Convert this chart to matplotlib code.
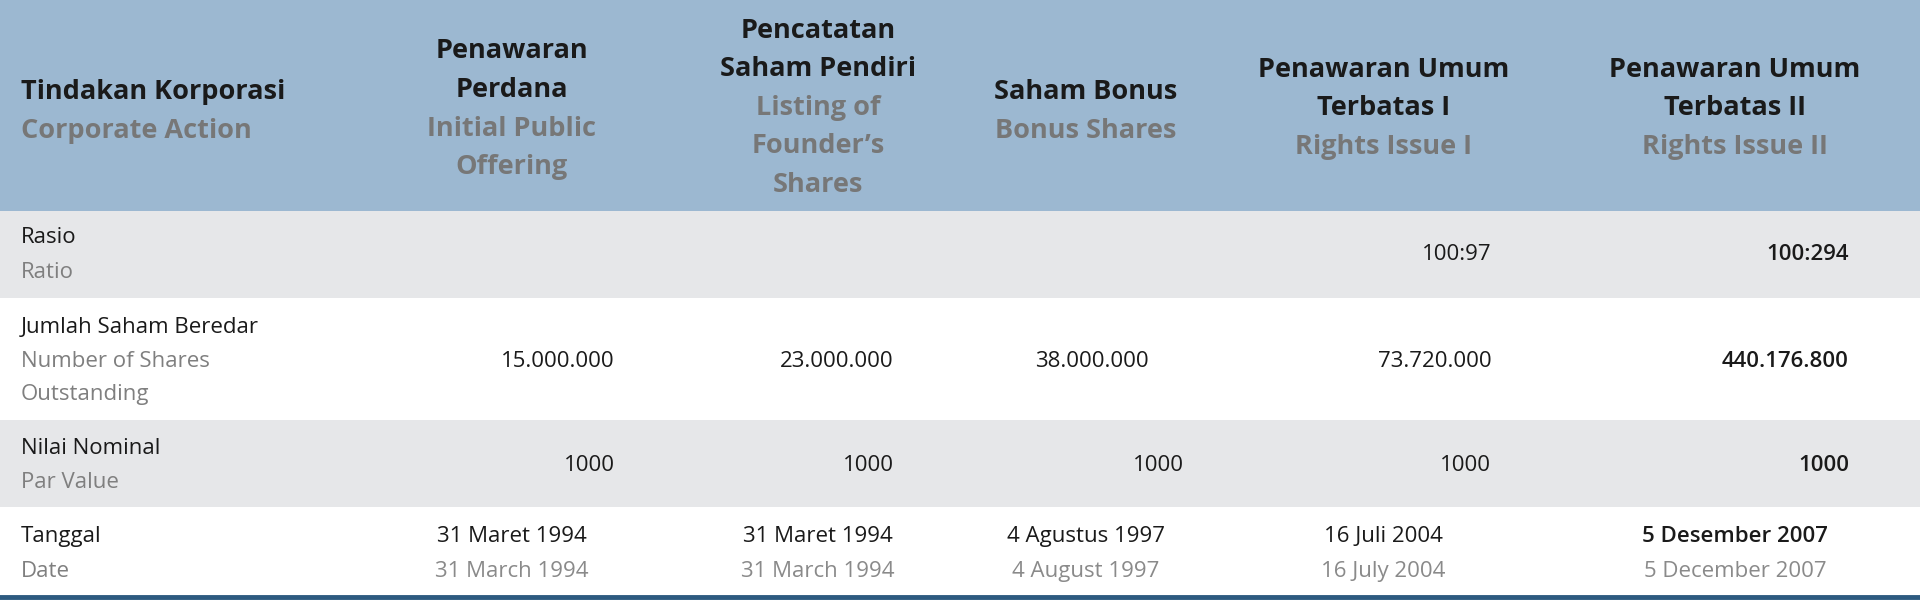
import matplotlib
matplotlib.use("Agg")
import matplotlib.pyplot as plt
from matplotlib.patches import Rectangle

plt.rcParams['font.family'] = ['Open Sans', 'DejaVu Sans']

headers_id = ["Tindakan Korporasi", "Penawaran\nPerdana", "Pencatatan\nSaham Pendiri", "Saham Bonus",
              "Penawaran Umum\nTerbatas I", "Penawaran Umum\nTerbatas II"]
headers_en = ["Corporate Action", "Initial Public\nOffering", "Listing of\nFounder’s\nShares", "Bonus Shares",
              "Rights Issue I", "Rights Issue II"]
row_id = ["Rasio", "Jumlah Saham Beredar", "Nilai Nominal", "Tanggal"]
row_en = ["Ratio", "Number of Shares\nOutstanding", "Par Value", "Date"]
ratio = ["", "", "", "100:97", "100:294"]
shares = ["15.000.000", "23.000.000", "38.000.000", "73.720.000", "440.176.800"]
par = ["1000", "1000", "1000", "1000", "1000"]
date_id = ["31 Maret 1994", "31 Maret 1994", "4 Agustus 1997", "16 Juli 2004", "5 Desember 2007"]
date_en = ["31 March 1994", "31 March 1994", "4 August 1997", "16 July 2004", "5 December 2007"]

W, H = 1568, 497
fig = plt.figure(figsize=(19.2, 6.09), dpi=100)
ax = fig.add_axes([0, 0, 1, 1])
ax.set_xlim(0, W); ax.set_ylim(H, 0); ax.axis('off')

HB = "#9cb8d1"; GR = "#e6e7e9"; DK = "#1a1a1a"; LG = "#7f7f7f"
ax.add_patch(Rectangle((0, 0), W, 172, color=HB, lw=0))
ax.add_patch(Rectangle((0, 172), W, 71, color=GR, lw=0))
ax.add_patch(Rectangle((0, 343), W, 71, color=GR, lw=0))
ax.plot([0, W], [487, 487], color="#2d5a80", lw=3.5)

HF = 19.5; BF = 16
LS = 31.5
# header
hcx = [17, 418, 668, 887, 1130, 1417]
htop = [75, 42, 25, 75, 57, 57]
for i in range(6):
    ids = headers_id[i].split("\n"); ens = headers_en[i].split("\n")
    ha = 'left' if i == 0 else 'center'
    y = htop[i]
    for t in ids:
        ax.text(hcx[i], y, t, ha=ha, va='center', fontsize=HF, fontweight='bold', color=DK); y += LS
    for t in ens:
        ax.text(hcx[i], y, t, ha=ha, va='center', fontsize=HF, fontweight='bold', color="#777777"); y += LS

# row labels
ry = [194, 267, 366, 438]
for k in range(4):
    y = ry[k]
    ax.text(17, y, row_id[k], ha='left', va='center', fontsize=BF, color=DK)
    y += 28
    for t in row_en[k].split("\n"):
        ax.text(17, y, t, ha='left', va='center', fontsize=BF, color=LG); y += 27

def style(j):
    return dict(color=DK, fontweight='semibold') if j == 4 else dict(color=DK)

valx = [502, 730, 938, 1218, 1510]
parx = [502, 730, 967, 1218, 1510]
for j in range(5):
    ax.text(1218 if j == 3 else 1510, 208, ratio[j], ha='right', va='center', fontsize=BF, **style(j)) if ratio[j] else None
    ax.text(valx[j], 295, shares[j], ha='right', va='center', fontsize=BF, **style(j))
    ax.text(parx[j], 380, par[j], ha='right', va='center', fontsize=BF, **style(j))
datex = [418, 668, 887, 1130, 1417]
for j in range(5):
    ax.text(datex[j], 438, date_id[j], ha='center', va='center', fontsize=BF, **style(j))
    ax.text(datex[j], 466, date_en[j], ha='center', va='center', fontsize=BF, color="#8a8a8a")

fig.savefig("out.png", dpi=100, facecolor="white")
